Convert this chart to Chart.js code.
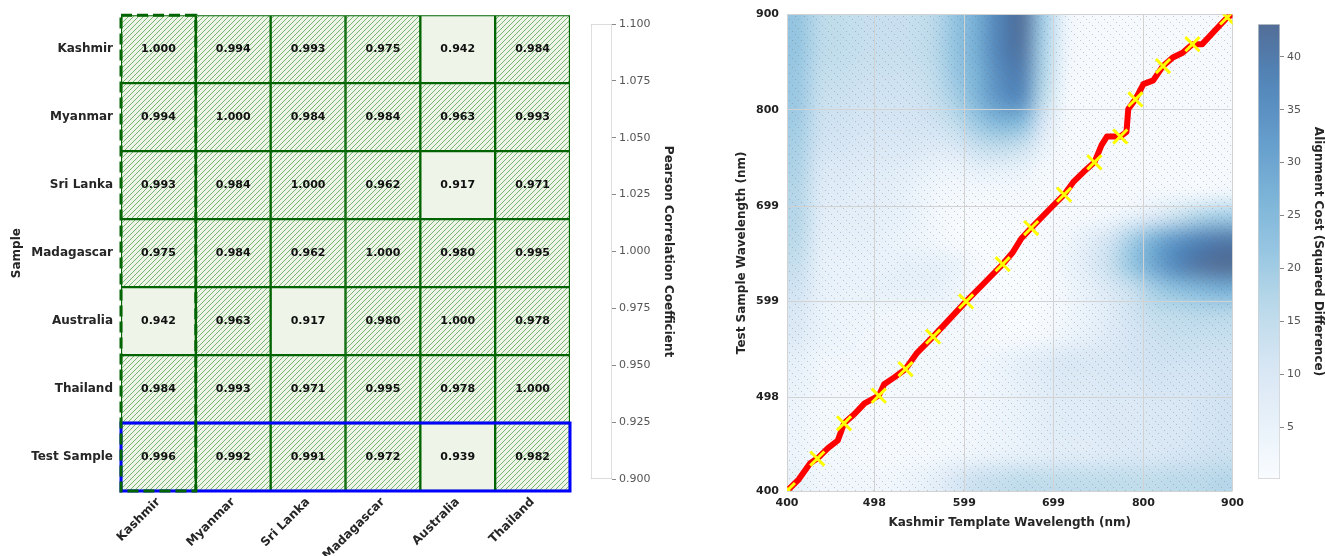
<!DOCTYPE html>
<html>
<head>
<meta charset="utf-8">
<script src="https://cdn.jsdelivr.net/npm/chart.js@4.4.1/dist/chart.umd.min.js"></script>
<style>
  body { margin: 0; background: #fff; width: 1325px; height: 556px; overflow: hidden; position: relative; }
  canvas { position: absolute; top: 0; }
</style>
</head>
<body>
<canvas id="corrChart" style="left:0" width="585" height="556"></canvas>
<canvas id="corrBar" style="left:585px" width="100" height="556"></canvas>
<canvas id="dtwChart" style="left:725px" width="525" height="556"></canvas>
<canvas id="costBar" style="left:1250px" width="75" height="556"></canvas>
<script>
// ---- data: correlation matrix (left panel) ----
const rowLabels = ['Kashmir', 'Myanmar', 'Sri Lanka', 'Madagascar', 'Australia', 'Thailand', 'Test Sample'];
const colLabels = ['Kashmir', 'Myanmar', 'Sri Lanka', 'Madagascar', 'Australia', 'Thailand'];
const corrValues = [
  [1.000, 0.994, 0.993, 0.975, 0.942, 0.984],
  [0.994, 1.000, 0.984, 0.984, 0.963, 0.993],
  [0.993, 0.984, 1.000, 0.962, 0.917, 0.971],
  [0.975, 0.984, 0.962, 1.000, 0.980, 0.995],
  [0.942, 0.963, 0.917, 0.980, 1.000, 0.978],
  [0.984, 0.993, 0.971, 0.995, 0.978, 1.000],
  [0.996, 0.992, 0.991, 0.972, 0.939, 0.982]
];
const hatchThreshold = 0.95;
const highlightRow = 'Test Sample';
const highlightCol = 'Kashmir';
const corrRange = [0.9, 1.1];
const corrTicks = [0.900, 0.925, 0.950, 0.975, 1.000, 1.025, 1.050, 1.075, 1.100];

// ---- data: DTW cost matrix and warping path (right panel) ----
const waveRange = [400, 900];
const waveTicks = [400, 498, 599, 699, 800, 900];
// rows from 900 nm (top) down to 400 nm, columns from 400 nm to 900 nm, 25 nm cells
const costGrid = [
  [22, 16, 15, 14, 14, 14, 16, 22, 28, 38, 42, 20, 4, 1, 1, 1, 1, 1, 1, 1],
  [22, 16, 15, 14, 14, 14, 16, 22, 28, 38, 41, 19, 4, 1, 1, 1, 1, 1, 1, 1],
  [21, 15, 14, 13, 13, 13, 15, 21, 27, 36, 39, 18, 3, 1, 1, 1, 1, 1, 1, 1],
  [21, 14, 13, 12, 12, 12, 14, 19, 26, 34, 36, 16, 2, 1, 1, 1, 1, 1, 1, 1],
  [20, 13, 12, 11, 11, 11, 12, 15, 21, 26, 25, 11, 2, 1, 1, 1, 1, 1, 1, 1],
  [19, 12, 11, 10, 10, 10, 9, 10, 14, 16, 14, 6, 1, 1, 1, 1, 1, 1, 1, 1],
  [18, 10, 9, 8, 8, 7, 5, 4, 6, 6, 5, 2, 1, 1, 1, 1, 1, 1, 1, 1],
  [17, 9, 8, 7, 7, 5, 3, 2, 2, 2, 2, 1, 1, 1, 1, 1, 2, 2, 2, 3],
  [17, 8, 7, 7, 6, 5, 3, 1, 1, 1, 1, 1, 1, 2, 3, 6, 10, 14, 18, 20],
  [16, 7, 6, 6, 5, 4, 3, 1, 0, 0, 0, 1, 3, 7, 12, 20, 28, 34, 38, 40],
  [14, 6, 5, 5, 5, 6, 6, 5, 2, 0, 0, 1, 4, 8, 14, 22, 30, 37, 41, 43],
  [12, 6, 5, 5, 6, 6, 6, 4, 1, 0, 0, 1, 3, 6, 10, 14, 20, 24, 26, 28],
  [10, 5, 4, 4, 3, 3, 3, 3, 2, 1, 0, 1, 3, 5, 8, 12, 15, 16, 17, 17],
  [9, 5, 4, 3, 3, 3, 2, 2, 2, 1, 1, 2, 4, 6, 9, 11, 13, 14, 14, 14],
  [6, 3, 3, 3, 2, 2, 2, 2, 3, 4, 6, 8, 10, 10, 10, 11, 12, 12, 12, 12],
  [5, 3, 2, 2, 2, 2, 2, 2, 3, 4, 6, 8, 9, 9, 10, 10, 11, 11, 11, 12],
  [4, 2, 2, 1, 1, 2, 2, 2, 3, 4, 5, 7, 8, 8, 9, 9, 10, 10, 11, 12],
  [4, 2, 2, 1, 1, 1, 2, 2, 3, 4, 5, 7, 8, 8, 9, 9, 10, 10, 11, 12],
  [4, 2, 2, 1, 1, 2, 2, 3, 4, 5, 6, 7, 8, 8, 9, 10, 10, 11, 12, 13],
  [5, 3, 3, 3, 3, 4, 6, 10, 13, 14, 15, 15, 15, 15, 15, 15, 15, 16, 16, 17]
];
const costRange = [0.1, 43.1];
const costTicks = [5, 10, 15, 20, 25, 30, 35, 40];
const pathX = [400, 413, 426, 434, 446, 457, 464, 476, 487, 503, 509, 520, 533, 546, 564, 579, 601, 620, 642, 653, 663, 674, 696, 711, 722, 733, 745, 753, 759, 774, 781, 783, 791, 800, 811, 822, 833, 844, 855, 866, 885, 894, 900];
const pathY = [400, 412, 429, 434, 445, 453, 471, 481, 492, 500, 512, 519, 528, 545, 562, 577, 599, 617, 638, 650, 665, 676, 697, 711, 725, 735, 745, 763, 772, 772, 777, 801, 811, 827, 831, 846, 855, 860, 869, 869, 888, 897, 900];
const markerX = [401, 434, 464, 503, 533, 564, 601, 642, 674, 711, 745, 774, 791, 822, 855, 894];
const markerY = [401, 434, 471, 500, 528, 562, 599, 638, 676, 711, 745, 772, 811, 846, 869, 897];

// ---- styling ----
const fontFamily = "'DejaVu Sans', sans-serif";
const labelColor = '#262626';
const cellFill = '#eef5e8';
const cellBorder = '#006400';
const bluesStops = ['#f7fbff', '#deebf7', '#c6dbef', '#9ecae1', '#6baed6', '#4292c6', '#2171b5', '#08519c', '#08306b'];
const bluesAlpha = 0.7;

function hexRgb(h) {
  return [parseInt(h.slice(1, 3), 16), parseInt(h.slice(3, 5), 16), parseInt(h.slice(5, 7), 16)];
}

// Blues colormap blended over white
function bluesColor(t) {
  t = Math.max(0, Math.min(1, t));
  const pos = t * (bluesStops.length - 1);
  const i = Math.min(bluesStops.length - 2, Math.floor(pos));
  const f = pos - i;
  const a = hexRgb(bluesStops[i]), b = hexRgb(bluesStops[i + 1]);
  return a.map((c, k) => Math.round((c + (b[k] - c) * f) * bluesAlpha + 255 * (1 - bluesAlpha)));
}

function makeHatch() {
  const size = 5;
  const c = document.createElement('canvas');
  c.width = size; c.height = size;
  const g = c.getContext('2d');
  g.fillStyle = cellFill;
  g.fillRect(0, 0, size, size);
  g.strokeStyle = 'rgba(50,145,50,0.7)';
  g.lineWidth = 0.9;
  g.beginPath();
  g.moveTo(0, size); g.lineTo(size, 0);
  g.moveTo(-1, 1); g.lineTo(1, -1);
  g.moveTo(size - 1, size + 1); g.lineTo(size + 1, size - 1);
  g.stroke();
  return g.createPattern(c, 'repeat');
}

function makeDots() {
  const c = document.createElement('canvas');
  c.width = 9; c.height = 9;
  const g = c.getContext('2d');
  g.fillStyle = 'rgba(110,110,110,0.35)';
  g.fillRect(1, 1, 1, 1);
  g.fillRect(4, 4, 1, 1);
  g.fillRect(7, 7, 1, 1);
  return g.createPattern(c, 'repeat');
}

const hatch = makeHatch();

// ---- left: correlation heatmap ----
const corrOverlay = {
  id: 'corrOverlay',
  afterDatasetsDraw(chart) {
    const {ctx, scales: {x, y}} = chart;
    const r = rowLabels.indexOf(highlightRow);
    const c = colLabels.indexOf(highlightCol);
    ctx.save();
    // highlighted row (solid blue)
    ctx.strokeStyle = '#0000ff';
    ctx.lineWidth = 3;
    const ry0 = y.getPixelForValue(r - 0.5), ry1 = y.getPixelForValue(r + 0.5);
    ctx.strokeRect(x.getPixelForValue(0), ry0, x.getPixelForValue(colLabels.length) - x.getPixelForValue(0), ry1 - ry0);
    // highlighted column (dashed green)
    ctx.strokeStyle = cellBorder;
    ctx.setLineDash([11, 5]);
    const cx0 = x.getPixelForValue(c), cx1 = x.getPixelForValue(c + 1);
    const top = y.getPixelForValue(-0.5), bottom = y.getPixelForValue(rowLabels.length - 0.5);
    ctx.strokeRect(cx0, top, cx1 - cx0, bottom - top);
    ctx.setLineDash([]);
    // cell values
    ctx.fillStyle = '#111';
    ctx.font = 'bold 11px ' + fontFamily;
    ctx.textAlign = 'center';
    ctx.textBaseline = 'middle';
    rowLabels.forEach((row, i) => {
      colLabels.forEach((col, j) => {
        ctx.fillText(corrValues[i][j].toFixed(3), x.getPixelForValue(j + 0.5), y.getPixelForValue(i));
      });
    });
    ctx.restore();
  }
};

new Chart(document.getElementById('corrChart'), {
  type: 'bar',
  data: {
    labels: rowLabels,
    datasets: colLabels.map((col, j) => ({
      label: col,
      data: rowLabels.map((row, i) => ({x: [j, j + 1], y: row, v: corrValues[i][j]})),
      backgroundColor: ctx => (ctx.raw && ctx.raw.v >= hatchThreshold ? hatch : cellFill),
      borderColor: cellBorder,
      borderWidth: 1.5,
      borderSkipped: false,
      grouped: false,
      barPercentage: 1,
      categoryPercentage: 1
    }))
  },
  options: {
    indexAxis: 'y',
    responsive: false,
    animation: false,
    layout: {padding: {top: 12, right: 15, left: 0, bottom: 0}},
    plugins: {legend: {display: false}, tooltip: {enabled: false}},
    scales: {
      x: {
        type: 'linear',
        min: 0,
        max: colLabels.length,
        afterBuildTicks: s => { s.ticks = colLabels.map((c, i) => ({value: i + 0.5})); },
        afterFit: s => { s.height = 65; },
        grid: {display: false, drawTicks: false},
        border: {display: false},
        ticks: {
          minRotation: 45, maxRotation: 45, padding: 4, color: labelColor,
          font: {family: fontFamily, size: 12, weight: 'bold'},
          callback: v => colLabels[Math.floor(v)]
        }
      },
      y: {
        type: 'category',
        afterFit: s => { s.width = 121; },
        grid: {display: false, drawTicks: false},
        border: {display: false},
        ticks: {padding: 8, color: labelColor, font: {family: fontFamily, size: 12, weight: 'bold'}},
        title: {display: true, text: 'Sample', color: labelColor, font: {family: fontFamily, size: 12, weight: 'bold'}, padding: {top: 10}}
      }
    }
  },
  plugins: [corrOverlay]
});

// ---- colorbar helper ----
function colorbar(id, range, ticks, fmt, fill, title, padLeft, axisWidth, titlePad) {
  return new Chart(document.getElementById(id), {
    type: 'bar',
    data: {
      labels: [''],
      datasets: [{
        data: [range],
        backgroundColor: fill,
        borderColor: '#d0d0d0',
        borderWidth: 1,
        borderSkipped: false,
        barPercentage: 1,
        categoryPercentage: 1
      }]
    },
    options: {
      responsive: false,
      animation: false,
      layout: {padding: {top: 24, bottom: 77, left: padLeft, right: 0}},
      plugins: {legend: {display: false}, tooltip: {enabled: false}},
      scales: {
        x: {display: false},
        y: {
          position: 'right',
          min: range[0],
          max: range[1],
          afterBuildTicks: s => { s.ticks = ticks.map(v => ({value: v})); },
          afterFit: s => { s.width = axisWidth; },
          grid: {drawOnChartArea: false, drawTicks: true, tickLength: 4, color: '#888'},
          border: {display: false},
          ticks: {padding: 3, color: '#555', font: {family: fontFamily, size: 11}, callback: fmt},
          title: {display: true, text: title, color: labelColor, font: {family: fontFamily, size: 12, weight: 'bold'}, padding: {top: titlePad}}
        }
      }
    }
  });
}

colorbar('corrBar', corrRange, corrTicks, v => v.toFixed(3), '#ffffff',
  'Pearson Correlation Coefficient', 6, 73, 10);

colorbar('costBar', costRange, costTicks, v => String(v), ctx => {
  const chart = ctx.chart;
  if (!chart.chartArea) return '#ffffff';
  const y = chart.scales.y;
  const g = chart.ctx.createLinearGradient(0, y.getPixelForValue(costRange[0]), 0, y.getPixelForValue(costRange[1]));
  for (let k = 0; k <= 20; k++) {
    const c = bluesColor(k / 20);
    g.addColorStop(k / 20, `rgb(${c[0]},${c[1]},${c[2]})`);
  }
  return g;
}, 'Alignment Cost (Squared Difference)', 8, 45, 0);

// ---- right: DTW cost matrix with warping path ----
const costImage = {
  id: 'costImage',
  beforeDraw(chart) {
    const {ctx, scales: {x, y}} = chart;
    const nR = costGrid.length, nC = costGrid[0].length;
    const off = document.createElement('canvas');
    off.width = nC; off.height = nR;
    const octx = off.getContext('2d');
    const img = octx.createImageData(nC, nR);
    costGrid.forEach((row, i) => row.forEach((v, j) => {
      const c = bluesColor((v - costRange[0]) / (costRange[1] - costRange[0]));
      const p = (i * nC + j) * 4;
      img.data[p] = c[0]; img.data[p + 1] = c[1]; img.data[p + 2] = c[2]; img.data[p + 3] = 255;
    }));
    octx.putImageData(img, 0, 0);
    const x0 = x.getPixelForValue(waveRange[0]), x1 = x.getPixelForValue(waveRange[1]);
    const yTop = y.getPixelForValue(waveRange[1]), yBot = y.getPixelForValue(waveRange[0]);
    ctx.save();
    ctx.imageSmoothingEnabled = true;
    ctx.imageSmoothingQuality = 'high';
    ctx.drawImage(off, x0, yTop, x1 - x0, yBot - yTop);
    ctx.fillStyle = makeDots();
    ctx.fillRect(x0, yTop, x1 - x0, yBot - yTop);
    ctx.restore();
  }
};

const tickFont = {family: fontFamily, size: 11, weight: 'bold'};
const titleFont = {family: fontFamily, size: 12, weight: 'bold'};

new Chart(document.getElementById('dtwChart'), {
  type: 'scatter',
  data: {
    datasets: [
      {
        label: 'markers',
        data: markerX.map((v, i) => ({x: v, y: markerY[i]})),
        pointStyle: 'crossRot',
        pointRadius: 10,
        pointBorderWidth: 3,
        borderColor: '#ffff00',
        backgroundColor: '#ffff00',
        clip: 0
      },
      {
        label: 'path',
        data: pathX.map((v, i) => ({x: v, y: pathY[i]})),
        showLine: true,
        borderColor: '#ff0000',
        borderWidth: 6,
        borderJoinStyle: 'round',
        borderCapStyle: 'round',
        pointRadius: 0,
        tension: 0,
        clip: 0
      }
    ]
  },
  options: {
    responsive: false,
    animation: false,
    layout: {padding: {top: 12, right: 13, left: 0, bottom: 0}},
    plugins: {legend: {display: false}, tooltip: {enabled: false}},
    scales: {
      x: {
        type: 'linear',
        min: waveRange[0],
        max: waveRange[1],
        afterBuildTicks: s => { s.ticks = waveTicks.map(v => ({value: v})); },
        afterFit: s => { s.height = 65; },
        grid: {color: '#d2d2d2', drawTicks: false},
        border: {display: false},
        ticks: {padding: 6, color: '#222', font: tickFont, callback: v => String(v)},
        title: {display: true, text: 'Kashmir Template Wavelength (nm)', color: labelColor, font: titleFont, padding: {bottom: 26}}
      },
      y: {
        type: 'linear',
        min: waveRange[0],
        max: waveRange[1],
        afterBuildTicks: s => { s.ticks = waveTicks.map(v => ({value: v})); },
        afterFit: s => { s.width = 62; },
        grid: {color: '#d2d2d2', drawTicks: false},
        border: {display: false},
        ticks: {padding: 8, color: '#222', font: tickFont, callback: v => String(v)},
        title: {display: true, text: 'Test Sample Wavelength (nm)', color: labelColor, font: titleFont, padding: {top: 10}}
      }
    }
  },
  plugins: [costImage]
});
</script>
</body>
</html>
